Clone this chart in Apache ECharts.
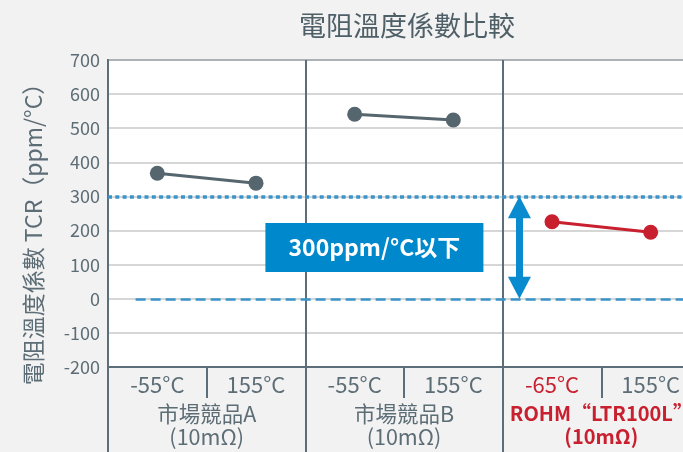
<!DOCTYPE html>
<html>
<head>
<meta charset="utf-8">
<script src="https://cdn.jsdelivr.net/npm/echarts@6/dist/echarts.min.js"></script>
<style>html,body{margin:0;padding:0;background:#f2f2f2;}#c{width:683px;height:452px;}</style>
</head>
<body>
<div id="c"></div>
<script>
var tempLabels = ['-55°C', '155°C', '-55°C', '155°C', '-65°C', '155°C'];
var groupLabels = ['市場競品A\n(10mΩ)', '市場競品B\n(10mΩ)', 'ROHM“LTR100L”\n(10mΩ)'];
var groupA = [368, 339];
var groupB = [541, 524];
var groupR = [226, 195];
var yTicks = { min: -200, max: 700, interval: 100 };
var limitValue = 300;
var boxText = '300ppm/°C以下';

var FONT = '"Noto Sans CJK TC", "Noto Sans", sans-serif';
var GRAY = '#56666f';
var TXT = '#5d6d76';
var RED = '#c8202f';
var AXIS = '#5b6e7a';
var BLUE = '#0a8bd0';

function pad(arr, start) {
  var out = [];
  for (var i = 0; i < tempLabels.length; i++) out.push('-');
  for (var j = 0; j < arr.length; j++) out[start + j] = arr[j];
  return out;
}

var chart = echarts.init(document.getElementById('c'));
chart.setOption({
  backgroundColor: '#f2f2f2',
  animation: false,
  title: {
    text: '電阻溫度係數比較',
    left: 294, top: 7,
    textStyle: { fontFamily: FONT, fontSize: 27, fontWeight: 'normal', color: '#4f5f68' }
  },
  grid: {
    left: 108, top: 60, width: 592, height: 307,
    outerBoundsMode: 'none', containLabel: false,
    show: true, backgroundColor: '#ffffff', borderColor: AXIS, borderWidth: 2
  },
  xAxis: [
    {
      type: 'category', data: tempLabels, position: 'bottom',
      axisLine: { show: true, onZero: false, lineStyle: { color: AXIS, width: 2 } },
      axisTick: { show: true, interval: 0, length: 31, lineStyle: { color: AXIS, width: 2 } },
      splitLine: { show: false },
      axisLabel: {
        interval: 0, margin: 7, fontFamily: FONT, fontSize: 22, color: TXT,
        formatter: function (v, i) { return i === 4 ? '{r|' + v + '}' : v; },
        rich: { r: { fontFamily: FONT, fontSize: 22, color: RED } }
      }
    },
    {
      type: 'category', data: groupLabels, position: 'bottom',
      axisLine: { show: false, onZero: false },
      axisTick: { show: true, interval: 0, length: 90, lineStyle: { color: AXIS, width: 2 } },
      splitLine: { show: true, interval: 0, lineStyle: { color: AXIS, width: 2 } },
      axisLabel: {
        interval: 0, margin: 35, fontFamily: FONT, fontSize: 21.5, color: TXT, lineHeight: 23,
        formatter: function (v, i) {
          if (i === 2) {
            return v.split('\n').map(function (s) { return '{r|' + s + '}'; }).join('\n');
          }
          return v;
        },
        rich: { r: { fontFamily: FONT, fontSize: 20, fontWeight: 'bold', color: RED, lineHeight: 23 } }
      }
    },
    { type: 'value', min: 0, max: 6, show: false, axisLine: { onZero: false } }
  ],
  yAxis: {
    type: 'value', min: yTicks.min, max: yTicks.max, interval: yTicks.interval,
    name: '電阻溫度係數 TCR（ppm/°C）', nameLocation: 'middle', nameGap: 63,
    nameTextStyle: { fontFamily: FONT, fontSize: 23, color: TXT, padding: [0, 30, 0, 0] },
    axisLine: { show: true, onZero: false, lineStyle: { color: AXIS, width: 2 } },
    axisTick: { show: false },
    axisLabel: { margin: 8, fontFamily: FONT, fontSize: 18, color: TXT },
    splitLine: { show: true, lineStyle: { color: '#c8c8c8', width: 1.5 } }
  },
  series: [
    {
      type: 'line', xAxisIndex: 0, data: pad(groupA, 0),
      symbol: 'circle', symbolSize: 15, lineStyle: { color: GRAY, width: 3 },
      itemStyle: { color: GRAY }
    },
    {
      type: 'line', xAxisIndex: 0, data: pad(groupB, 2),
      symbol: 'circle', symbolSize: 15, lineStyle: { color: GRAY, width: 3 },
      itemStyle: { color: GRAY }
    },
    {
      type: 'line', xAxisIndex: 0, data: pad(groupR, 4),
      symbol: 'circle', symbolSize: 15, lineStyle: { color: RED, width: 3 },
      itemStyle: { color: RED },
      markLine: {
        silent: true, symbol: 'none', label: { show: false },
        lineStyle: { color: '#3a93c9', width: 3.5, type: [4, 3.3] },
        data: [{ yAxis: limitValue }]
      }
    },
    {
      type: 'scatter', xAxisIndex: 2, data: [],
      markLine: {
        silent: true, label: { show: false }, symbol: 'none',
        data: [
          [{ coord: [0.28, 0], lineStyle: { color: '#3a93c9', width: 2.5, type: [10, 5] } },
           { coord: [6, 0] }],
          [{ coord: [4.17, limitValue - 32], symbol: 'triangle', symbolSize: [23, 22],
             lineStyle: { color: BLUE, width: 7, type: 'solid' } },
           { coord: [4.17, 32], symbol: 'triangle', symbolSize: [23, 22] }]
        ]
      },
      markPoint: {
        silent: true,
        data: [{
          coord: [2.70, 150], symbol: 'rect', symbolSize: [218, 49],
          itemStyle: { color: '#0088cc' },
          label: { show: true, formatter: boxText, color: '#ffffff',
                   fontFamily: FONT, fontSize: 23, fontWeight: 'bold' }
        }]
      }
    }
  ]
});
</script>
</body>
</html>
